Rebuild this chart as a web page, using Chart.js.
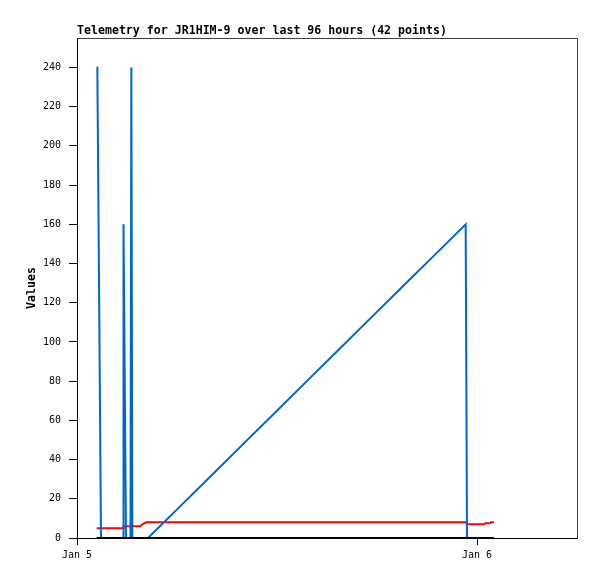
<!DOCTYPE html>
<html>
<head>
<meta charset="utf-8">
<script src="https://cdn.jsdelivr.net/npm/chart.js@4/dist/chart.umd.min.js"></script>
<style>
html,body{margin:0;padding:0;background:#fff;}
canvas{display:block;}
</style>
</head>
<body>
<canvas id="c" width="597" height="579"></canvas>
<script>
// Hours since Jan 5 00:00
const times = [1.18, 1.22, 1.44, 2.76, 2.79, 2.94, 3.21, 3.26, 3.32, 3.78,
               3.93, 4.14, 4.26, 6.17, 8.08, 9.98, 11.89, 13.79, 15.70, 17.60,
               19.51, 21.42, 23.32, 23.40, 24.42, 24.50, 24.78, 24.85, 25.02];
const blueValues = [240, 240, 0, 0, 160, 0, 0, 240, 0, 0,
                    0, 0, 0, 16, 32, 48, 64, 80, 96, 112,
                    128, 144, 160, 0, 0, 0, 0, 0, 0];
const redValues = [5, 5, 5, 5, 6, 6, 6, 6, 6, 6,
                   7, 8, 8, 8, 8, 8, 8, 8, 8, 8,
                   8, 8, 8, 7, 7, 7.5, 7.5, 8, 8];
const blackValues = [0, 0, 0, 0, 0, 0, 0, 0, 0, 0,
                     0, 0, 0, 0, 0, 0, 0, 0, 0, 0,
                     0, 0, 0, 0, 0, 0, 0, 0, 0];
const xTickValues = [0, 24];
const xTickLabels = ['Jan 5', 'Jan 6'];
const yTickValues = [0, 20, 40, 60, 80, 100, 120, 140, 160, 180, 200, 220, 240];
const titleText = 'Telemetry for JR1HIM-9 over last 96 hours (42 points)';
const yAxisTitle = 'Values';

const toXY = vals => vals.map((v, i) => ({x: times[i], y: v}));

const frame = {
  id: 'frame',
  afterDatasetsDraw(chart) {
    const {ctx, chartArea: a} = chart;
    ctx.save();
    ctx.strokeStyle = '#404040';
    ctx.lineWidth = 1;
    ctx.beginPath();
    ctx.moveTo(Math.round(a.left) + 0.5, Math.round(a.top) + 0.5);
    ctx.lineTo(Math.round(a.right) + 0.5, Math.round(a.top) + 0.5);
    ctx.lineTo(Math.round(a.right) + 0.5, Math.round(a.bottom) + 0.5);
    ctx.stroke();
    ctx.restore();
  }
};

const tickFont = {family: '"DejaVu Sans Mono", monospace', size: 10};
const boldFont = {family: '"DejaVu Sans Mono", monospace', size: 11.6, weight: 'bold', lineHeight: '14px'};

new Chart(document.getElementById('c'), {
  type: 'line',
  data: {
    datasets: [
      {data: toXY(blackValues), borderColor: '#000000', borderWidth: 2, pointRadius: 0, tension: 0},
      {data: toXY(blueValues), borderColor: '#0066cc', borderWidth: 2, pointRadius: 0, tension: 0},
      {data: toXY(redValues), borderColor: '#ff0000', borderWidth: 2, pointRadius: 0, tension: 0}
    ]
  },
  options: {
    responsive: false,
    animation: false,
    devicePixelRatio: 1,
    layout: {padding: {left: 0, right: 20, top: 0, bottom: 0}},
    plugins: {
      legend: {display: false},
      tooltip: {enabled: false},
      title: {
        display: true,
        text: titleText,
        align: 'start',
        fullSize: false,
        color: '#000',
        font: boldFont,
        padding: {top: 24, bottom: 0}
      }
    },
    scales: {
      x: {
        type: 'linear',
        min: 0,
        max: 30,
        afterBuildTicks: s => { s.ticks = xTickValues.map(v => ({value: v})); },
        afterFit: s => { s.height = 41; },
        ticks: {
          color: '#000',
          font: tickFont,
          padding: 4,
          maxRotation: 0,
          autoSkip: false,
          callback: v => { const i = xTickValues.indexOf(v); return i >= 0 ? xTickLabels[i] : ''; }
        },
        grid: {display: true, drawOnChartArea: false, drawTicks: true, tickLength: 7, color: '#000', lineWidth: 1},
        border: {display: true, color: '#000', width: 1}
      },
      y: {
        type: 'linear',
        min: 0,
        max: 255,
        afterBuildTicks: s => { s.ticks = yTickValues.map(v => ({value: v})); },
        afterFit: s => { s.width = 77; },
        ticks: {color: '#000', font: tickFont, padding: 8, autoSkip: false},
        grid: {display: true, drawOnChartArea: false, drawTicks: true, tickLength: 8, color: '#000', lineWidth: 1},
        border: {display: true, color: '#000', width: 1},
        title: {display: true, text: yAxisTitle, color: '#000', font: boldFont, padding: {top: 25, bottom: 0}}
      }
    }
  },
  plugins: [frame]
});
</script>
</body>
</html>
